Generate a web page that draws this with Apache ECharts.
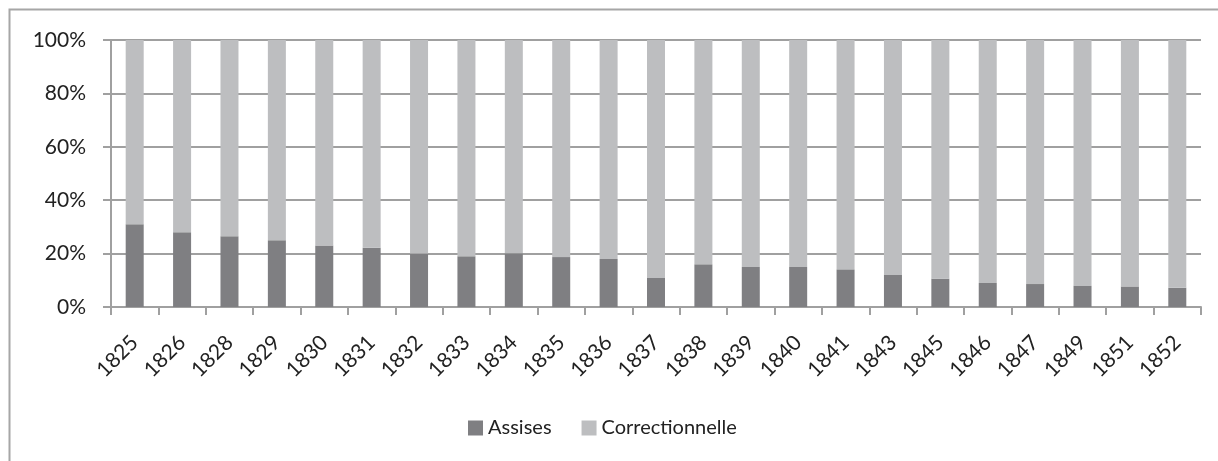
<!DOCTYPE html>
<html>
<head>
<meta charset="utf-8">
<script src="https://cdn.jsdelivr.net/npm/echarts@6/dist/echarts.min.js"></script>
<style>
  html, body { margin: 0; padding: 0; background: #fff; }
  #chart { width: 1218px; height: 461px; }
</style>
</head>
<body>
<div id="chart"></div>
<script>
// years on the x axis
const years = ['1825', '1826', '1828', '1829', '1830', '1831', '1832', '1833', '1834', '1835', '1836', '1837',
  '1838', '1839', '1840', '1841', '1843', '1845', '1846', '1847', '1849', '1851', '1852'];
// share of Assises (%)
const assises = [31, 28, 26.5, 25, 23, 22.2, 20, 19, 20.1, 18.7, 18, 10.9,
  16, 15, 15, 14.1, 12, 10.6, 9, 8.6, 7.9, 7.7, 7.2];
// Correctionnelle fills the rest up to 100%
const correctionnelle = assises.map(v => +(100 - v).toFixed(1));
const yTicks = [0, 20, 40, 60, 80, 100];

const chartDom = document.getElementById('chart');
const myChart = echarts.init(chartDom);

const font = 'Lato, "Open Sans", sans-serif';

const option = {
  animation: false,
  textStyle: { fontFamily: font },
  grid: {
    left: 111,
    right: 17,
    top: 40,
    bottom: 154
  },
  graphic: [
    {
      type: 'rect',
      shape: { x: 9.5, y: 9.5, width: 1230, height: 470 },
      style: { fill: 'none', stroke: '#a6a6a6', lineWidth: 2 },
      silent: true
    }
  ],
  legend: {
    bottom: 18,
    left: 463,
    itemWidth: 15,
    itemHeight: 15,
    itemGap: 30,
    icon: 'rect',
    textStyle: { fontSize: 20, color: '#222', fontFamily: font },
    data: ['Assises', 'Correctionnelle']
  },
  xAxis: {
    type: 'category',
    data: years,
    axisLine: { lineStyle: { color: '#a0a0a0', width: 2 } },
    axisTick: { show: true, length: 8, lineStyle: { color: '#a0a0a0', width: 2 } },
    axisLabel: {
      rotate: 45,
      interval: 0,
      fontSize: 21,
      color: '#222',
      margin: 32
    }
  },
  yAxis: {
    type: 'value',
    min: yTicks[0],
    max: yTicks[yTicks.length - 1],
    interval: 20,
    axisLine: { show: true, lineStyle: { color: '#a0a0a0', width: 2 } },
    axisTick: { show: true, length: 8, lineStyle: { color: '#a0a0a0', width: 2 } },
    axisLabel: {
      formatter: '{value}%',
      fontSize: 21,
      color: '#222',
      margin: 25
    },
    splitLine: { show: true, lineStyle: { color: '#a0a0a0', width: 2 } }
  },
  series: [
    {
      name: 'Assises',
      type: 'bar',
      stack: 'total',
      data: assises,
      barWidth: '38%',
      itemStyle: { color: '#7f7f82' }
    },
    {
      name: 'Correctionnelle',
      type: 'bar',
      stack: 'total',
      data: correctionnelle,
      barWidth: '38%',
      itemStyle: { color: '#bdbec0' }
    }
  ]
};

myChart.setOption(option);
</script>
</body>
</html>
